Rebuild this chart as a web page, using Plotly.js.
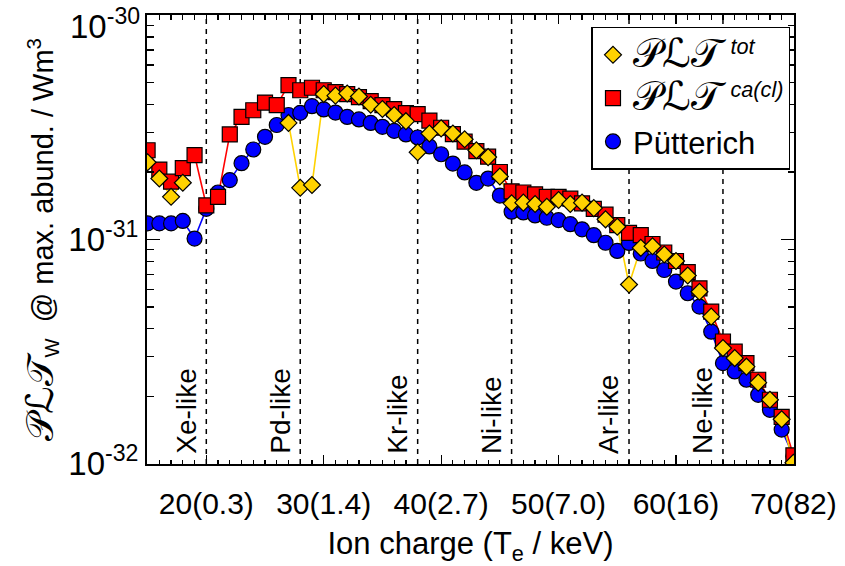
<!DOCTYPE html>
<html>
<head>
<meta charset="utf-8">
<script src="https://cdn.plot.ly/plotly-3.0.1.min.js"></script>
<style>
  html, body { margin: 0; padding: 0; background: #fff; }
  #chart { width: 845px; height: 566px; }
</style>
</head>
<body>
<div id="chart"></div>
<script>
// Tungsten ion charge states
const charge = [15, 16, 17, 18, 19, 20, 21, 22, 23, 24, 25, 26, 27, 28, 29, 30,
                31, 32, 33, 34, 35, 36, 37, 38, 39, 40, 41, 42, 43, 44, 45, 46,
                47, 48, 49, 50, 51, 52, 53, 54, 55, 56, 57, 58, 59, 60, 61, 62,
                63, 64, 65, 66, 67, 68, 69, 70];

// PLT_tot (W m^3)
const pltTot = [2.21e-31, 1.87e-31, 1.55e-31, 1.79e-31, null, null, null, null,
                null, null, null, null, 3.31e-31, 1.70e-31, 1.75e-31, 4.45e-31,
                4.38e-31, 4.48e-31, 4.34e-31, 3.99e-31, 3.82e-31, 3.59e-31, 3.37e-31, 2.45e-31,
                2.97e-31, 3.13e-31, 2.97e-31, 2.80e-31, 2.50e-31, 2.33e-31, 1.91e-31, 1.45e-31,
                1.46e-31, 1.44e-31, 1.40e-31, 1.50e-31, 1.44e-31, 1.46e-31, 1.38e-31, 1.23e-31,
                1.14e-31, 6.30e-32, 9.18e-32, 9.33e-32, 8.57e-32, 8.02e-32, 6.91e-32, 5.85e-32,
                4.53e-32, 3.28e-32, 2.96e-32, 2.71e-32, 2.30e-32, 1.93e-32, 1.58e-32, 1.01e-32];

// PLT_ca(cl) (W m^3)
const pltCa = [2.50e-31, 2.05e-31, 1.81e-31, 2.08e-31, 2.38e-31, 1.42e-31, 1.55e-31, 2.94e-31,
               3.52e-31, 3.77e-31, 4.08e-31, 3.97e-31, 4.88e-31, 4.63e-31, 4.75e-31, 4.63e-31,
               4.54e-31, 4.45e-31, 4.31e-31, 4.14e-31, 3.97e-31, 3.81e-31, 3.66e-31, 3.62e-31,
               3.39e-31, 3.15e-31, 2.95e-31, 2.73e-31, 2.48e-31, 2.34e-31, 2.00e-31, 1.64e-31,
               1.62e-31, 1.59e-31, 1.55e-31, 1.55e-31, 1.52e-31, 1.45e-31, 1.37e-31, 1.29e-31,
               1.16e-31, 1.07e-31, 1.047e-31, 9.55e-32, 8.75e-32, 8.02e-32, 7.16e-32, 6.06e-32,
               4.77e-32, 3.51e-32, 3.16e-32, 2.81e-32, 2.37e-32, 1.93e-32, 1.62e-32, 1.09e-32];

// Puetterich et al. (W m^3)
const pltPuetterich = [1.18e-31, 1.18e-31, 1.18e-31, 1.21e-31, 1.01e-31, 1.37e-31, 1.62e-31, 1.84e-31,
                       2.19e-31, 2.52e-31, 2.87e-31, 3.24e-31, 3.59e-31, 3.67e-31, 3.93e-31, 3.80e-31,
                       3.68e-31, 3.52e-31, 3.43e-31, 3.31e-31, 3.18e-31, 3.05e-31, 2.94e-31, 2.85e-31,
                       2.60e-31, 2.40e-31, 2.18e-31, 1.99e-31, 1.79e-31, 1.87e-31, 1.57e-31, 1.33e-31,
                       1.32e-31, 1.28e-31, 1.25e-31, 1.22e-31, 1.17e-31, 1.11e-31, 1.045e-31, 9.67e-32,
                       8.89e-32, 9.65e-32, 8.66e-32, 8.02e-32, 7.31e-32, 6.49e-32, 5.76e-32, 5.02e-32,
                       3.88e-32, 2.81e-32, 2.58e-32, 2.37e-32, 2.03e-32, 1.74e-32, 1.42e-32, 1.08e-32];

// Closed-shell isoelectronic boundaries
const shellCharge = [20, 28, 38, 46, 56, 64];
const shellLabels = ['Xe-like', 'Pd-like', 'Kr-like', 'Ni-like', 'Ar-like', 'Ne-like'];

// Axis ticks: ion charge with the corresponding electron temperature
const xTickVals = [20, 30, 40, 50, 60, 70];
const xTickText = ['20(0.3)', '30(1.4)', '40(2.7)', '50(7.0)', '60(16)', '70(82)'];
// the top decade label is placed as an annotation, nudged down to stay on the page
const yTickVals = [1e-32, 1e-31, 1e-30];
const yTickText = ['10<sup>-32</sup>', '10<sup>-31</sup>', ''];
const yTopLabel = '10<sup>-30</sup>';
const yMinorVals = [2e-32, 3e-32, 4e-32, 5e-32, 6e-32, 7e-32, 8e-32, 9e-32,
                    2e-31, 3e-31, 4e-31, 5e-31, 6e-31, 7e-31, 8e-31, 9e-31];

const FONT = '"Liberation Sans", Arial, Helvetica, "DejaVu Sans", sans-serif';
const GOLD = '#FFD200';
const RED = '#FF0000';
const BLUE = '#0000FF';
const PLT = '\u{1D4AB}\u2112\u{1D4AF}';
const pltBig = size => '<span style="font-size:' + size + 'px">' + PLT + '</span>';

function lineTrace(y, color) {
  return { x: charge, y: y, type: 'scatter', mode: 'lines', connectgaps: false,
           line: { color: color, width: 1.6 }, showlegend: false, hoverinfo: 'skip' };
}
function markerTrace(y, name, symbol, size, color) {
  return { x: charge, y: y, type: 'scatter', mode: 'markers', name: name,
           marker: { symbol: symbol, size: size, color: color,
                     line: { color: '#000', width: 1.2 } } };
}

const traces = [
  lineTrace(pltPuetterich, BLUE),
  lineTrace(pltCa, RED),
  lineTrace(pltTot, GOLD),
  markerTrace(pltPuetterich, 'Pütterich', 'circle', 15, BLUE),
  markerTrace(pltCa, pltBig(40) + ' <sup><i>ca(cl)</i></sup>', 'square', 15, RED),
  markerTrace(pltTot, pltBig(40) + ' <sup><i>tot</i></sup>', 'diamond', 13, GOLD)
];

const shapes = shellCharge.map(z => ({
  type: 'line', xref: 'x', yref: 'paper', x0: z, x1: z, y0: 0, y1: 1,
  line: { color: '#000', width: 1.5, dash: '5px,5px' }, layer: 'below'
}));

const annotations = shellCharge.map((z, i) => ({
  x: z, y: 0, xref: 'x', yref: 'paper', text: shellLabels[i], showarrow: false,
  textangle: -90, xanchor: 'right', yanchor: 'bottom', xshift: -3, yshift: 8,
  font: { family: FONT, size: 28, color: '#000' }
}));
annotations.push({
  x: 0, y: 1, xref: 'paper', yref: 'paper', text: yTopLabel, showarrow: false,
  xanchor: 'right', yanchor: 'middle', xshift: -5, yshift: -9,
  font: { family: FONT, size: 33, color: '#000' }
});

const layout = {
  width: 845, height: 566,
  margin: { l: 147, r: 51, t: 15, b: 102 },
  paper_bgcolor: '#fff', plot_bgcolor: '#fff',
  font: { family: FONT, color: '#000' },
  showlegend: true,
  legend: {
    x: 0.687, y: 0.974, xanchor: 'left', yanchor: 'top',
    bgcolor: '#fff', bordercolor: '#000', borderwidth: 1.5,
    traceorder: 'reversed', itemsizing: 'trace',
    font: { family: FONT, size: 31, color: '#000' }
  },
  xaxis: {
    range: [14.95, 70.05], showgrid: false, zeroline: false,
    showline: true, linecolor: '#000', linewidth: 2, mirror: 'allticks',
    ticks: 'inside', ticklen: 9, tickwidth: 1.2, tickcolor: '#000',
    tickvals: xTickVals, ticktext: xTickText, ticklabelstandoff: 12,
    ticklabeloverflow: 'allow',
    tickfont: { family: FONT, size: 30 },
    minor: { dtick: 1, ticks: 'inside', ticklen: 4.5, tickwidth: 1.2, tickcolor: '#000', showgrid: false },
    title: { text: 'Ion charge (T<sub>e</sub> / keV)', font: { family: FONT, size: 31 }, standoff: 16 }
  },
  yaxis: {
    type: 'log', range: [-32.001, -29.999], showgrid: false, zeroline: false,
    showline: true, linecolor: '#000', linewidth: 2, mirror: 'allticks',
    ticks: 'inside', ticklen: 13, tickwidth: 1.2, tickcolor: '#000',
    tickvals: yTickVals, ticktext: yTickText, ticklabeloverflow: 'allow',
    tickfont: { family: FONT, size: 33 },
    minor: { tickvals: yMinorVals, ticks: 'inside', ticklen: 6.5, tickwidth: 1.2, tickcolor: '#000', showgrid: false },
    title: { text: pltBig(38) + '<sub>W</sub>  @ max. abund. / Wm<sup>3</sup>',
             font: { family: FONT, size: 29 }, standoff: 6 }
  },
  shapes: shapes,
  annotations: annotations
};

Plotly.newPlot('chart', traces, layout, { staticPlot: true, displayModeBar: false });
</script>
</body>
</html>
